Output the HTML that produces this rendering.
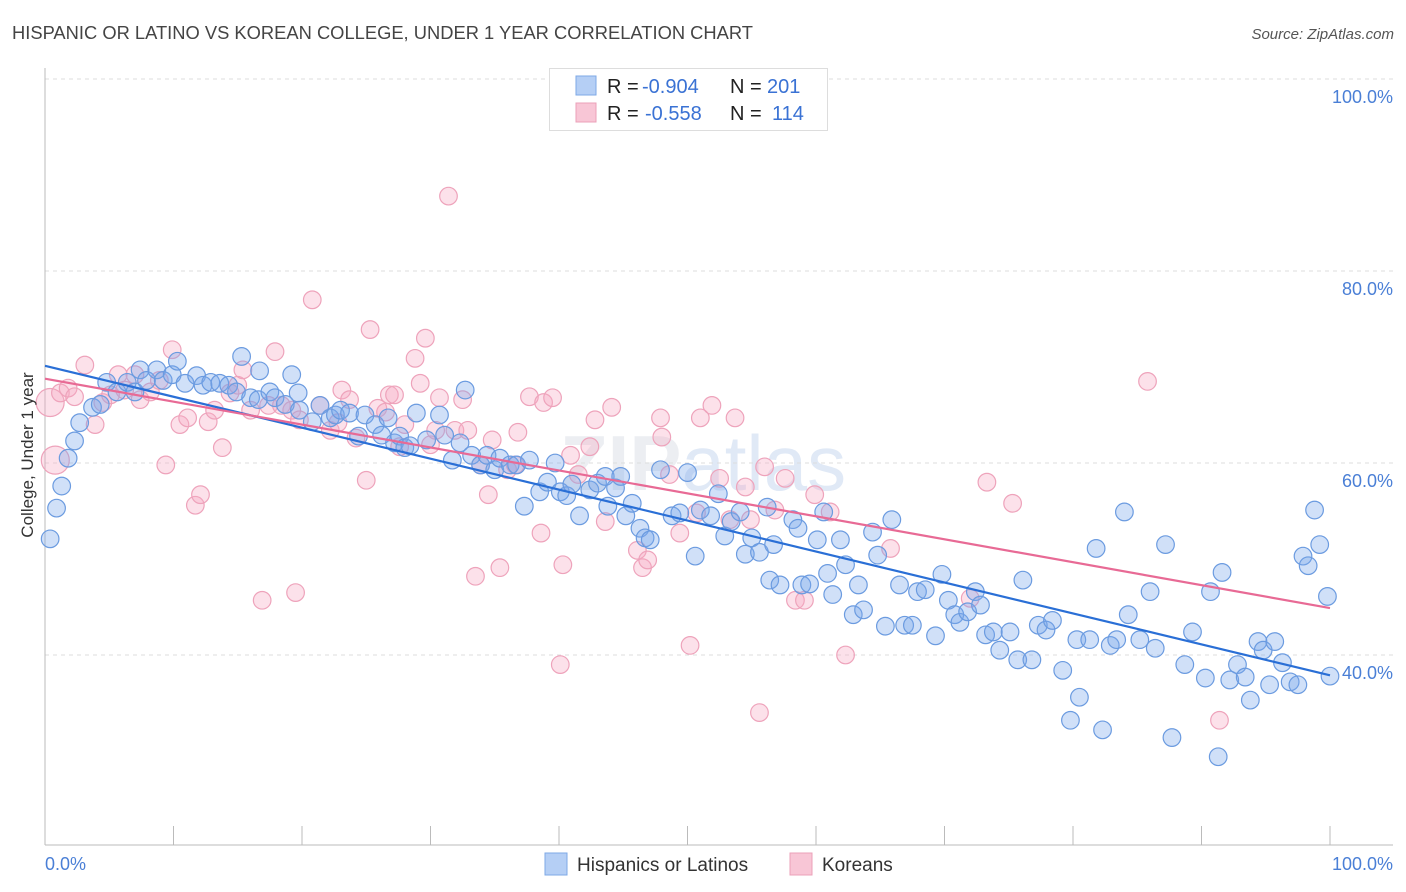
<!DOCTYPE html>
<html><head><meta charset="utf-8"><style>
body{margin:0;background:#fff;}
svg{display:block;font-family:"Liberation Sans",sans-serif;}
</style></head><body>
<svg id="chart" width="1406" height="892">
<text x="12" y="39" font-size="18" fill="#444" textLength="741" lengthAdjust="spacingAndGlyphs">HISPANIC OR LATINO VS KOREAN COLLEGE, UNDER 1 YEAR CORRELATION CHART</text>
<text x="1394" y="39" font-size="15" fill="#555" font-style="italic" text-anchor="end">Source: ZipAtlas.com</text>
<text x="560" y="490" font-size="78" fill="#eceef2" font-weight="bold">ZIP<tspan font-weight="normal" fill="#e0e9f6">atlas</tspan></text>
<g id="grid"></g>
<g id="axes"></g>
<g id="pts"></g>
<g id="trend"></g>
<text transform="translate(33,455) rotate(-90)" font-size="17" fill="#333" text-anchor="middle">College, Under 1 year</text>
<g>
<rect x="549.5" y="68.5" width="278" height="62" fill="#fff" stroke="#ddd"/>
<rect x="576" y="76" width="20" height="19" fill="#b5cff5" stroke="#7ea8e6"/>
<rect x="576" y="103" width="20" height="19" fill="#f8c6d6" stroke="#eba0b8"/>
<text x="607" y="93" font-size="20" fill="#222">R =</text>
<text x="642" y="93" font-size="20" fill="#3a72d4">-0.904</text>
<text x="730" y="93" font-size="20" fill="#222">N =</text>
<text x="767" y="93" font-size="20" fill="#3a72d4">201</text>
<text x="607" y="120" font-size="20" fill="#222">R =</text>
<text x="645" y="120" font-size="20" fill="#3a72d4">-0.558</text>
<text x="730" y="120" font-size="20" fill="#222">N =</text>
<text x="772" y="120" font-size="20" fill="#3a72d4">114</text>
</g>
<g>
<rect x="545" y="853" width="22" height="22" fill="#b5cff5" stroke="#7ea8e6"/>
<text x="577" y="871" font-size="19" fill="#333">Hispanics or Latinos</text>
<rect x="790" y="853" width="22" height="22" fill="#f8c6d6" stroke="#eba0b8"/>
<text x="822" y="871" font-size="19" fill="#333">Koreans</text>
</g>
</svg>
<script>
const yTicks=[40,60,80,100];
const yTickLabels=["40.0%","60.0%","80.0%","100.0%"];
const blueX=[0.4,0.9,1.3,1.8,2.3,2.7,3.7,4.3,4.8,5.6,6.4,7.0,7.4,7.9,8.7,9.2,9.9,10.3,10.9,11.8,12.3,12.9,13.6,14.3,14.9,15.3,16.0,16.6,16.7,17.5,17.9,18.7,19.2,19.7,19.8,20.8,21.4,22.2,22.6,23.0,23.7,24.4,24.9,25.7,26.2,26.7,27.2,27.6,28.0,28.4,28.9,29.7,30.7,31.1,31.7,32.3,32.7,33.2,33.9,34.4,35.0,35.4,36.2,36.7,37.3,37.7,38.5,39.1,39.7,40.1,40.6,41.0,41.6,42.4,43.0,43.6,43.8,44.4,44.8,45.2,45.7,46.3,46.7,47.1,47.9,48.8,49.4,50.0,50.6,51.0,51.8,52.4,52.9,53.4,54.1,54.5,55.0,55.6,56.2,56.7,56.4,57.2,58.2,58.6,58.9,59.5,60.1,60.6,60.9,61.3,61.9,62.3,62.9,63.3,63.7,64.4,64.8,65.4,65.9,66.5,66.9,67.5,67.9,68.5,69.3,69.8,70.3,70.8,71.2,71.8,72.4,72.8,73.2,73.8,74.3,75.1,75.7,76.1,76.8,77.3,77.9,78.4,79.2,79.8,80.5,80.3,81.3,81.8,82.3,82.9,83.4,84.0,84.3,85.2,86.0,86.4,87.2,87.7,88.7,89.3,90.3,90.7,91.3,91.6,92.2,92.8,93.4,93.8,94.4,94.8,95.3,95.7,96.3,96.9,97.5,97.9,98.3,98.8,99.2,99.8,100.0];
const blueY=[52.1,55.3,57.6,60.5,62.3,64.2,65.8,66.1,68.4,67.4,68.4,67.4,69.7,68.6,69.7,68.6,69.2,70.6,68.3,69.1,68.1,68.4,68.3,68.1,67.4,71.1,66.8,66.6,69.6,67.4,66.8,66.1,69.2,67.3,65.5,64.3,66.0,64.7,65.0,65.5,65.2,62.8,65.0,64.0,62.9,64.7,62.1,62.8,61.6,61.8,65.2,62.4,65.0,62.9,60.3,62.1,67.6,60.8,59.8,60.8,59.3,60.5,59.8,59.8,55.5,60.3,57.0,58.0,60.0,57.0,56.6,57.8,54.5,57.2,57.9,58.6,55.5,57.4,58.6,54.5,55.8,53.2,52.2,52.0,59.3,54.5,54.8,59.0,50.3,55.1,54.5,56.8,52.4,53.9,54.9,50.5,52.2,50.7,55.4,51.5,47.8,47.3,54.1,53.2,47.3,47.4,52.0,54.9,48.5,46.3,52.0,49.4,44.2,47.3,44.7,52.8,50.4,43.0,54.1,47.3,43.1,43.1,46.6,46.8,42.0,48.4,45.7,44.2,43.4,44.5,46.6,45.2,42.1,42.4,40.5,42.4,39.5,47.8,39.5,43.1,42.6,43.6,38.4,33.2,35.6,41.6,41.6,51.1,32.2,41.0,41.6,54.9,44.2,41.6,46.6,40.7,51.5,31.4,39.0,42.4,37.6,46.6,29.4,48.6,37.4,39.0,37.7,35.3,41.4,40.5,36.9,41.4,39.2,37.2,36.9,50.3,49.3,55.1,51.5,46.1,37.8];
const pinkX=[0.4,0.8,1.2,1.8,2.3,3.1,3.9,4.5,5.1,5.7,6.2,7.0,7.4,8.2,8.9,9.4,9.9,10.5,11.1,11.7,12.1,12.7,13.2,13.8,14.4,15.0,15.4,16.0,16.9,17.4,17.9,18.4,19.2,19.5,19.8,20.8,21.4,22.2,22.8,23.1,23.7,24.2,25.0,25.3,25.9,26.5,26.8,27.2,27.6,28.0,28.8,29.2,29.6,30.0,30.4,30.7,31.4,31.9,32.5,32.9,33.5,33.9,34.5,34.8,35.4,36.0,36.6,36.8,37.7,38.6,38.8,39.5,40.1,40.3,40.9,41.5,42.4,42.8,43.6,44.1,46.1,46.5,46.9,47.9,48.0,48.6,49.4,50.2,50.7,51.0,51.9,52.5,53.3,53.7,54.5,54.9,55.6,56.0,56.8,57.6,58.4,59.1,59.9,61.1,62.3,65.8,72.0,73.3,75.3,85.8,91.4];
const pinkY=[66.3,60.3,67.3,67.8,66.9,70.2,64.0,66.3,67.1,69.2,67.6,69.2,66.6,67.4,68.6,59.8,71.8,64.0,64.7,55.6,56.7,64.3,65.5,61.6,67.3,68.1,69.7,65.5,45.7,66.0,71.6,66.0,65.5,46.5,64.5,77.0,66.0,63.4,64.2,67.6,66.6,62.6,58.2,73.9,65.7,65.3,67.1,67.1,61.7,64.0,70.9,68.3,73.0,61.9,63.4,66.8,87.8,63.4,66.6,63.4,48.2,59.8,56.7,62.4,49.1,59.3,59.8,63.2,66.9,52.7,66.3,66.8,39.0,49.4,60.8,58.8,61.7,64.5,53.9,65.8,50.9,49.1,49.9,64.7,62.7,58.8,52.7,41.0,54.8,64.7,66.0,58.4,54.1,64.7,57.5,54.1,34.0,59.6,55.1,58.4,45.7,45.7,56.7,54.9,40.0,51.1,45.9,58.0,55.8,68.5,33.2];

const NS="http://www.w3.org/2000/svg";
const X0=45,X1=1330,YT=79,YB=845;
function xs(v){return X0+v*(X1-X0)/100;}
function ys(v){return 655-(v-40)*9.6;}
function mk(tag,attrs,parent){const e=document.createElementNS(NS,tag);for(const k in attrs)e.setAttribute(k,attrs[k]);parent.appendChild(e);return e;}
const grid=document.getElementById('grid'),axes=document.getElementById('axes');
yTicks.forEach((t,i)=>{
  const l=mk('line',{x1:X0,x2:1393,y1:ys(t),y2:ys(t),stroke:'#ddd','stroke-dasharray':'4,4'},grid);
  
  
  const tx=mk('text',{x:1393,y:ys(t)+24,'font-size':18,fill:'#4a7fd6','text-anchor':'end'},axes);
  tx.textContent=yTickLabels[i];
  
  
});
const ax=mk('line',{x1:X0,x2:1393,y1:YB,y2:YB,stroke:'#bbb'},axes);


const ay=mk('line',{x1:X0,x2:X0,y1:68,y2:YB,stroke:'#bbb'},axes);


for(let i=0;i<=10;i++){
  const tk=mk('line',{x1:xs(i*10),x2:xs(i*10),y1:826,y2:YB,stroke:'#bbb'},axes);
  
  
}
const xl=mk('text',{x:45,y:870,'font-size':18,fill:'#4a7fd6'},axes);xl.textContent='0.0%';


const xr=mk('text',{x:1393,y:870,'font-size':18,fill:'#4a7fd6','text-anchor':'end'},axes);xr.textContent='100.0%';



const pts=document.getElementById('pts');
function scatter(X,Y,fill,stroke,name){
  X.forEach((x,i)=>{
    const big=(name==='korean-point'&&i<2);
    const c=mk('circle',{cx:xs(x),cy:ys(Y[i]),r:big?14:8.8,fill:fill,stroke:stroke,'stroke-width':1.2},pts);
    
    
  });
}
scatter(pinkX,pinkY,'rgba(246,170,195,0.35)','#eea3bb','korean-point');
scatter(blueX,blueY,'rgba(120,165,235,0.35)','#6b9be0','hispanic-point');

function fit(X,Y){const n=X.length;let sx=0,sy=0,sxx=0,sxy=0;for(let i=0;i<n;i++){sx+=X[i];sy+=Y[i];sxx+=X[i]*X[i];sxy+=X[i]*Y[i];}const b=(n*sxy-sx*sy)/(n*sxx-sx*sx);return [(sy-b*sx)/n,b];}
const tr=document.getElementById('trend');
[[blueX,blueY,'#2a6fd6','hispanic-trendline'],[pinkX,pinkY,'#e86a95','korean-trendline']].forEach(s=>{
  const [a,b]=fit(s[0],s[1]);
  const l=mk('line',{x1:xs(0),y1:ys(a),x2:xs(100),y2:ys(a+100*b),stroke:s[2],'stroke-width':2.2},tr);
  
  
});
</script>
</body></html>
